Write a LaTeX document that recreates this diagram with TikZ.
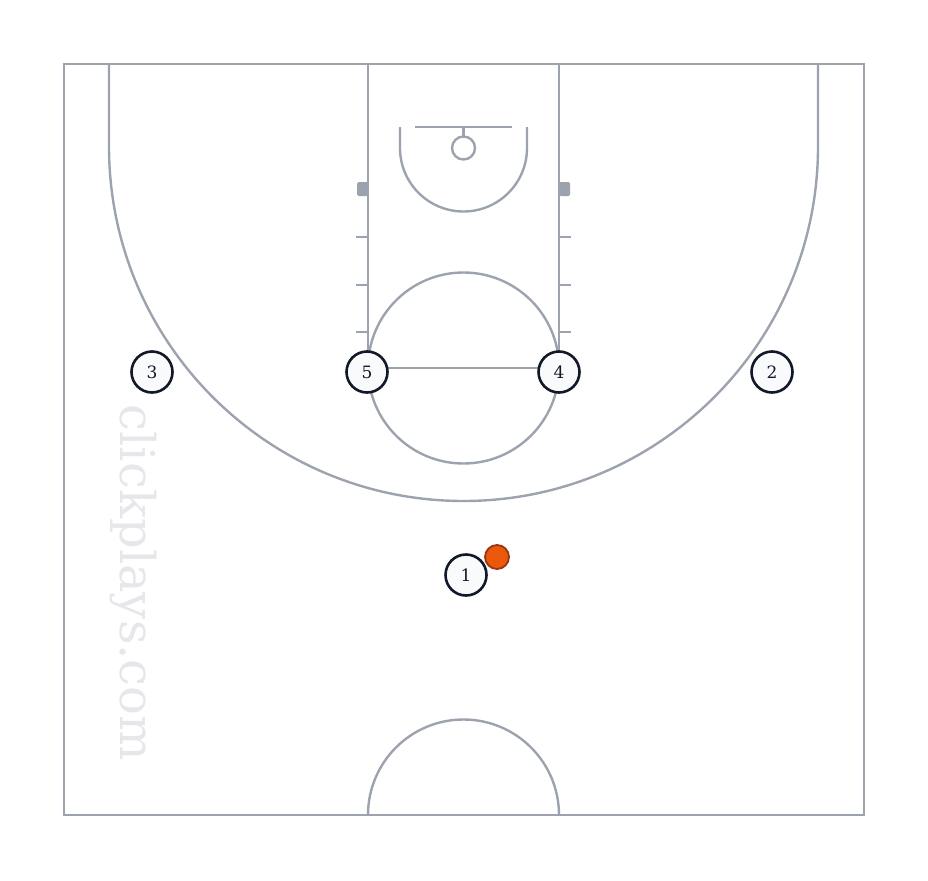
\documentclass[tikz,border=0pt]{standalone}
\usepackage{fontspec}
\usepackage{tikz}
\usetikzlibrary{shapes,calc}
\newfontfamily\courtfont{DejaVu Serif}
\definecolor{courtGray}{HTML}{9CA3AF}
\definecolor{playerInk}{HTML}{111827}
\definecolor{playerFill}{HTML}{F8FAFC}
\definecolor{ballFill}{HTML}{EA580C}
\definecolor{ballInk}{HTML}{9A3412}
\definecolor{markGray}{HTML}{E5E7EB}
\tikzstyle{courtLine}=[draw=courtGray, line width=2.4pt]
\tikzstyle{blockMark}=[fill=courtGray, rounded corners=1.5pt]
\tikzstyle{player}=[circle, draw=playerInk, fill=playerFill, minimum size=41pt, line width=2.6pt, inner sep=0pt, outer sep=0pt, text=playerInk, font=\courtfont\fontsize{17}{17}\selectfont]
\tikzstyle{ballV}=[circle, draw=ballInk, fill=ballFill, minimum size=24pt, line width=1.8pt, inner sep=0pt, outer sep=0pt]
\begin{document}
\begin{tikzpicture}[x=1pt, y=-1pt]
      \useasboundingbox (0,0) rectangle (928,880);
      %%%%%%%%%%%% Marca de agua
      \node (wm) [rotate=-90, text=markGray, font=\courtfont\fontsize{48}{48}\selectfont] at (133,583){clickplays.com};
      %%%%%%%%%%%% Cancha
      \draw[courtLine] (64,64) rectangle (864,815);
      \draw[courtLine] (109,64) -- (109,146.5) arc[start angle=180, end angle=0, radius=354.5] -- (818,64);
      \draw[courtLine] (368,64) -- (368,368) -- (559,368) -- (559,64);
      \draw[courtLine] (463.5,368) circle[radius=95.5];
      \draw[courtLine] (368,815) arc[start angle=180, end angle=360, radius=95.5];
      \draw[courtLine] (400,127) -- (400,148) arc[start angle=180, end angle=0, radius=63.5] -- (527,127);
      \draw[courtLine] (415,127) -- (512,127);
      \draw[courtLine] (463.5,127) -- (463.5,136);
      \draw[courtLine] (463.5,148) circle[radius=11.5];
      \foreach \y in {237,285,332}{
        \draw[courtLine] (356,\y) -- (368,\y);
        \draw[courtLine] (559,\y) -- (571,\y);
      }
      \fill[blockMark] (357,182) rectangle (368,196);
      \fill[blockMark] (559,182) rectangle (570,196);
      %%%%%%%%%%%% Jugadores
      \node(p3) [player] at (152,372){3};
      \node(p5) [player] at (367,372){5};
      \node(p4) [player] at (559,372){4};
      \node(p2) [player] at (772,372){2};
      \node(p1) [player] at (466,575){1};
      \node(ball) [ballV] at (497,557){};
    \end{tikzpicture}
\end{document}
